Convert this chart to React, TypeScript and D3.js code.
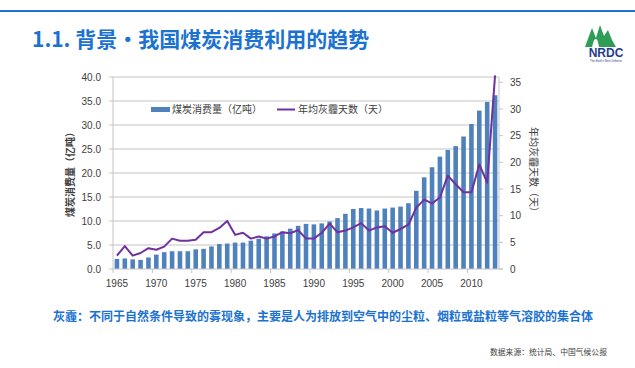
import * as d3 from 'd3';

const YEARS = [
  1965, 1966, 1967, 1968, 1969, 1970, 1971, 1972, 1973, 1974,
  1975, 1976, 1977, 1978, 1979, 1980, 1981, 1982, 1983, 1984,
  1985, 1986, 1987, 1988, 1989, 1990, 1991, 1992, 1993, 1994,
  1995, 1996, 1997, 1998, 1999, 2000, 2001, 2002, 2003, 2004,
  2005, 2006, 2007, 2008, 2009, 2010, 2011, 2012, 2013,
];

// 煤炭消费量（亿吨）
const COAL = [
  2.1, 2.2, 2.0, 1.9, 2.4, 3.0, 3.5, 3.7, 3.7, 3.7,
  4.1, 4.2, 4.7, 5.2, 5.3, 5.5, 5.5, 5.9, 6.3, 6.8,
  7.4, 7.8, 8.4, 9.0, 9.4, 9.3, 9.5, 9.9, 10.6, 11.5,
  12.5, 12.7, 12.6, 12.2, 12.6, 12.8, 13.0, 13.7, 16.3, 19.1,
  21.2, 23.4, 24.8, 25.6, 27.6, 30.2, 33.0, 34.8, 36.2,
];

// 年均灰霾天数（天）
const HAZE = [
  2.5, 4.3, 2.5, 3.0, 3.9, 3.6, 4.2, 5.7, 5.3, 5.3,
  5.5, 6.9, 6.9, 7.7, 9.0, 6.4, 6.8, 5.7, 6.1, 5.7,
  6.1, 6.9, 6.7, 7.3, 5.7, 5.7, 6.8, 8.5, 6.9, 7.2,
  7.8, 8.6, 7.2, 7.8, 8.0, 6.8, 7.5, 8.3, 11.5, 13.0,
  12.3, 13.4, 17.5, 15.9, 14.4, 14.4, 19.6, 16.2, 36.3,
];

const LEFT_TICKS = [0, 5, 10, 15, 20, 25, 30, 35, 40];
const RIGHT_TICKS = [0, 5, 10, 15, 20, 25, 30, 35];
const YEAR_LABELS = [1965, 1970, 1975, 1980, 1985, 1990, 1995, 2000, 2005, 2010];

const TITLE = '1.1. 背景・我国煤炭消费利用的趋势';
const NOTE = '灰霾：不同于自然条件导致的雾现象，主要是人为排放到空气中的尘粒、烟粒或盐粒等气溶胶的集合体';
const SOURCE = '数据来源：统计局、中国气候公报';

const BLUE = '#1B72CF';
const BAR = '#4F81BD';
const LINE = '#7030A0';
const GRID = '#C4C4C4';
const TXT = '#404040';
const CJK = '"Noto Sans CJK SC", "Noto Sans", sans-serif';
const LAT = '"Liberation Sans", Arial, sans-serif';

export default function App() {
  const W = 635;
  const H = 368;
  const plot = { left: 113, right: 499, top: 77, bottom: 269 };

  const x = d3.scaleBand<number>()
    .domain(YEARS)
    .range([plot.left, plot.right])
    .paddingInner(0.42)
    .paddingOuter(0.21);
  const step = x.step();
  const cx = (yr: number) => (x(yr) as number) + x.bandwidth() / 2;
  const cellStart = (yr: number) => cx(yr) - step / 2;

  const yL = d3.scaleLinear().domain([0, 40]).range([plot.bottom, plot.top]);
  const yR = d3.scaleLinear().domain([0, 36]).range([plot.bottom, plot.top]);

  const line = d3.line<number>()
    .x((_, i) => cx(YEARS[i]))
    .y(d => yR(d));

  const legendY = 109.5;
  const midY = (plot.top + plot.bottom) / 2;

  return (
    <svg width={W} height={H} viewBox={`0 0 ${W} ${H}`}
      style={{ position: 'absolute', left: 0, top: 0, background: '#fff' }}>
      {/* top rule + title */}
      <rect x={0} y={10} width={W} height={2} fill={BLUE} />
      <text x={32} y={47} fontFamily={CJK} fontWeight={700} fontSize={21} fill={BLUE}>{TITLE}</text>

      {/* NRDC logo */}
      <g>
        <path d="M585,47 L589,36 L592,28 L596,38 L600,25 L604,36 L608,30 L612,40 L616,47 Z" fill="#2E9E57" />
        <path d="M592,47 L594,40 Q597,37 598,42 L599,47 Z" fill="#fff" />
        <text x={606} y={57} textAnchor="middle" fontFamily={LAT} fontWeight={700} fontSize={12} fill="#1F3C8C">NRDC</text>
        <text x={606} y={62} textAnchor="middle" fontFamily={LAT} fontSize={2.8} fill="#1F3C8C">The Earth's Best Defense</text>
      </g>

      {/* gridlines */}
      {LEFT_TICKS.filter(t => t > 0).map(t => (
        <line key={`g${t}`} x1={plot.left - 4} x2={plot.right} y1={yL(t)} y2={yL(t)} stroke={GRID} strokeWidth={1} />
      ))}

      {/* bars */}
      {COAL.map((v, i) => (
        <rect key={`b${i}`} x={x(YEARS[i])} y={yL(v)} width={x.bandwidth()} height={yL(0) - yL(v)} fill={BAR} />
      ))}

      {/* axes lines */}
      <line x1={plot.left} x2={plot.left} y1={plot.top} y2={plot.bottom} stroke={GRID} />
      <line x1={plot.right} x2={plot.right} y1={plot.top} y2={plot.bottom} stroke={GRID} />
      <line x1={plot.left - 4} x2={plot.right + 4} y1={plot.bottom} y2={plot.bottom} stroke={GRID} />

      {/* haze line */}
      <path d={line(HAZE) ?? ''} fill="none" stroke={LINE} strokeWidth={2} strokeLinejoin="round" />

      {/* left ticks */}
      {LEFT_TICKS.map(t => (
        <text key={`l${t}`} x={plot.left - 12} y={yL(t) + 3.5} textAnchor="end" fontFamily={LAT} fontSize={10} fill={TXT}>
          {t.toFixed(1)}
        </text>
      ))}

      {/* right ticks */}
      {RIGHT_TICKS.map(t => (
        <g key={`r${t}`}>
          <line x1={plot.right} x2={plot.right + 4} y1={yR(t)} y2={yR(t)} stroke={GRID} />
          <text x={plot.right + 11} y={yR(t) + 3.5} fontFamily={LAT} fontSize={10} fill={TXT}>{t}</text>
        </g>
      ))}

      {/* x ticks & labels */}
      {YEAR_LABELS.map(yr => (
        <g key={`x${yr}`}>
          <line x1={cellStart(yr)} x2={cellStart(yr)} y1={plot.bottom} y2={plot.bottom + 4} stroke={GRID} />
          <text x={cx(yr)} y={287} textAnchor="middle" fontFamily={LAT} fontSize={10} fill={TXT}>{yr}</text>
        </g>
      ))}

      {/* axis titles */}
      <text transform={`translate(74,${midY - 1}) rotate(-90)`} textAnchor="middle" fontFamily={CJK} fontWeight={700} fontSize={10} fill={TXT}>
        煤炭消费量（亿吨）
      </text>
      <text transform={`translate(530,${midY - 1}) rotate(90)`} textAnchor="middle" fontFamily={CJK} fontSize={10} fill={TXT}>
        年均灰霾天数（天）
      </text>

      {/* legend */}
      <rect x={151} y={legendY - 2.5} width={19} height={5} fill={BAR} />
      <text x={172} y={legendY + 3.5} fontFamily={CJK} fontSize={10} fill={TXT}>煤炭消费量（亿吨）</text>
      <line x1={277} x2={295} y1={legendY} y2={legendY} stroke={LINE} strokeWidth={2} />
      <text x={298} y={legendY + 3.5} fontFamily={CJK} fontSize={10} fill={TXT}>年均灰霾天数（天）</text>

      {/* note & source */}
      <text x={53} y={321} fontFamily={CJK} fontWeight={700} fontSize={12} fill={BLUE}>{NOTE}</text>
      <text x={490} y={355} fontFamily={CJK} fontSize={7.8} fill={TXT}>{SOURCE}</text>
    </svg>
  );
}
